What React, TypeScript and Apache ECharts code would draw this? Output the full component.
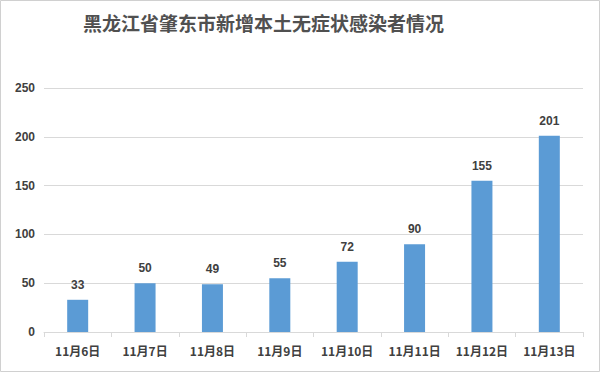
import React, { useEffect, useRef } from "react";
import * as echarts from "echarts";

const title = "黑龙江省肇东市新增本土无症状感染者情况";
const categories = ["11月6日", "11月7日", "11月8日", "11月9日", "11月10日", "11月11日", "11月12日", "11月13日"];
const values = [33, 50, 49, 55, 72, 90, 155, 201];
const yTicks = [0, 50, 100, 150, 200, 250];

export default function App() {
  const ref = useRef<HTMLDivElement>(null);
  useEffect(() => {
    const chart = echarts.init(ref.current!, null, { renderer: "svg" });
    chart.setOption({
      animation: false,
      backgroundColor: "#ffffff",
      title: {
        text: title,
        left: 78,
        top: 8,
        textStyle: { fontFamily: "Noto Sans CJK SC", fontSize: 19, fontWeight: "bold", color: "#505050" },
      },
      graphic: [
        {
          type: "rect",
          shape: { x: 0.5, y: 0.5, width: 599, height: 371 },
          style: { fill: "none", stroke: "#d0d0d0", lineWidth: 1 },
          silent: true,
        },
      ],
      grid: { left: 44, right: 17, top: 88, bottom: 40 },
      xAxis: {
        type: "category",
        data: categories,
        axisLine: { lineStyle: { color: "#d9d9d9" } },
        axisTick: { show: true, length: 5, interval: 0, lineStyle: { color: "#d9d9d9" } },
        axisLabel: { interval: 0, color: "#404040", fontSize: 12, fontWeight: "bold", fontFamily: "Noto Sans CJK SC", margin: 12 },
      },
      yAxis: {
        type: "value",
        min: yTicks[0],
        max: yTicks[yTicks.length - 1],
        interval: 50,
        axisLine: { show: false },
        axisTick: { show: false },
        splitLine: { lineStyle: { color: "#d9d9d9" } },
        axisLabel: { color: "#404040", fontSize: 12, fontWeight: "bold", fontFamily: "Liberation Sans", margin: 9 },
      },
      series: [
        {
          type: "bar",
          data: values,
          barWidth: 21,
          itemStyle: { color: "#5b9bd5" },
          label: {
            show: true,
            position: "top",
            distance: 9,
            color: "#404040",
            fontSize: 12,
            fontWeight: "bold",
            fontFamily: "Liberation Sans",
          },
        },
      ],
    });
    return () => chart.dispose();
  }, []);
  return <div ref={ref} style={{ width: 600, height: 372, position: "fixed", left: 0, top: 0 }} />;
}
